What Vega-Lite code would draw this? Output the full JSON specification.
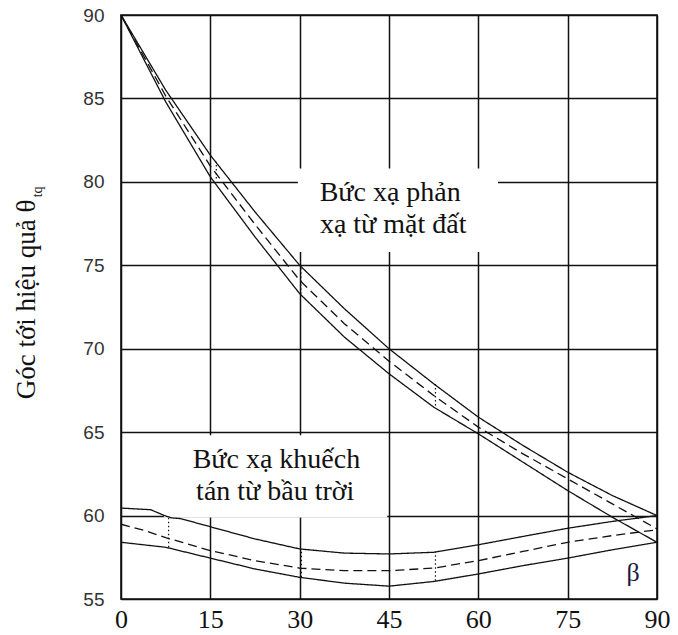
{
  "$schema": "https://vega.github.io/schema/vega-lite/v6.json",
  "width": 536,
  "height": 584,
  "autosize": {"type": "none"},
  "padding": {"left": 121, "top": 15, "right": 21, "bottom": 36},
  "background": "white",
  "config": {
    "view": {"stroke": "#111", "strokeWidth": 1.6}
  },
  "datasets": {
    "curves": [
      {"curve": "ground_hi", "dash": "solid", "x": 0, "y": 90},
      {"curve": "ground_hi", "dash": "solid", "x": 7.5, "y": 85.5},
      {"curve": "ground_hi", "dash": "solid", "x": 15, "y": 81.6},
      {"curve": "ground_hi", "dash": "solid", "x": 22.5, "y": 78.2},
      {"curve": "ground_hi", "dash": "solid", "x": 30, "y": 75.0},
      {"curve": "ground_hi", "dash": "solid", "x": 37.5, "y": 72.4},
      {"curve": "ground_hi", "dash": "solid", "x": 45, "y": 70.0},
      {"curve": "ground_hi", "dash": "solid", "x": 52.5, "y": 67.9},
      {"curve": "ground_hi", "dash": "solid", "x": 60, "y": 65.9},
      {"curve": "ground_hi", "dash": "solid", "x": 67.5, "y": 64.2},
      {"curve": "ground_hi", "dash": "solid", "x": 75, "y": 62.6},
      {"curve": "ground_hi", "dash": "solid", "x": 82.5, "y": 61.2},
      {"curve": "ground_hi", "dash": "solid", "x": 90, "y": 60.0},
      {"curve": "ground_mid", "dash": "dashed", "x": 0, "y": 90},
      {"curve": "ground_mid", "dash": "dashed", "x": 7.5, "y": 85.15},
      {"curve": "ground_mid", "dash": "dashed", "x": 15, "y": 80.95},
      {"curve": "ground_mid", "dash": "dashed", "x": 22.5, "y": 77.45},
      {"curve": "ground_mid", "dash": "dashed", "x": 30, "y": 74.1},
      {"curve": "ground_mid", "dash": "dashed", "x": 37.5, "y": 71.5},
      {"curve": "ground_mid", "dash": "dashed", "x": 45, "y": 69.25},
      {"curve": "ground_mid", "dash": "dashed", "x": 52.5, "y": 67.2},
      {"curve": "ground_mid", "dash": "dashed", "x": 60, "y": 65.3},
      {"curve": "ground_mid", "dash": "dashed", "x": 67.5, "y": 63.7},
      {"curve": "ground_mid", "dash": "dashed", "x": 75, "y": 62.2},
      {"curve": "ground_mid", "dash": "dashed", "x": 82.5, "y": 60.7},
      {"curve": "ground_mid", "dash": "dashed", "x": 90, "y": 59.2},
      {"curve": "ground_lo", "dash": "solid", "x": 0, "y": 90},
      {"curve": "ground_lo", "dash": "solid", "x": 7.5, "y": 84.8},
      {"curve": "ground_lo", "dash": "solid", "x": 15, "y": 80.3},
      {"curve": "ground_lo", "dash": "solid", "x": 22.5, "y": 76.7},
      {"curve": "ground_lo", "dash": "solid", "x": 30, "y": 73.3},
      {"curve": "ground_lo", "dash": "solid", "x": 37.5, "y": 70.7},
      {"curve": "ground_lo", "dash": "solid", "x": 45, "y": 68.5},
      {"curve": "ground_lo", "dash": "solid", "x": 52.5, "y": 66.5},
      {"curve": "ground_lo", "dash": "solid", "x": 60, "y": 64.9},
      {"curve": "ground_lo", "dash": "solid", "x": 67.5, "y": 63.2},
      {"curve": "ground_lo", "dash": "solid", "x": 75, "y": 61.5},
      {"curve": "ground_lo", "dash": "solid", "x": 82.5, "y": 59.9},
      {"curve": "ground_lo", "dash": "solid", "x": 90, "y": 58.4},
      {"curve": "sky_hi", "dash": "solid", "x": 0, "y": 60.45},
      {"curve": "sky_hi", "dash": "solid", "x": 5, "y": 60.35},
      {"curve": "sky_hi", "dash": "solid", "x": 7.3, "y": 60.0},
      {"curve": "sky_hi", "dash": "solid", "x": 8.5, "y": 59.86},
      {"curve": "sky_hi", "dash": "solid", "x": 10, "y": 59.82},
      {"curve": "sky_hi", "dash": "solid", "x": 15, "y": 59.33},
      {"curve": "sky_hi", "dash": "solid", "x": 22.5, "y": 58.6},
      {"curve": "sky_hi", "dash": "solid", "x": 30, "y": 58.0},
      {"curve": "sky_hi", "dash": "solid", "x": 37.5, "y": 57.75},
      {"curve": "sky_hi", "dash": "solid", "x": 45, "y": 57.7},
      {"curve": "sky_hi", "dash": "solid", "x": 52.5, "y": 57.8},
      {"curve": "sky_hi", "dash": "solid", "x": 60, "y": 58.25},
      {"curve": "sky_hi", "dash": "solid", "x": 67.5, "y": 58.75},
      {"curve": "sky_hi", "dash": "solid", "x": 75, "y": 59.24},
      {"curve": "sky_hi", "dash": "solid", "x": 82.5, "y": 59.65},
      {"curve": "sky_hi", "dash": "solid", "x": 90, "y": 60.0},
      {"curve": "sky_mid", "dash": "dashed", "x": 0, "y": 59.48},
      {"curve": "sky_mid", "dash": "dashed", "x": 4, "y": 59.1},
      {"curve": "sky_mid", "dash": "dashed", "x": 7.5, "y": 58.68},
      {"curve": "sky_mid", "dash": "dashed", "x": 15, "y": 57.9},
      {"curve": "sky_mid", "dash": "dashed", "x": 22.5, "y": 57.3},
      {"curve": "sky_mid", "dash": "dashed", "x": 30, "y": 56.85},
      {"curve": "sky_mid", "dash": "dashed", "x": 37.5, "y": 56.7},
      {"curve": "sky_mid", "dash": "dashed", "x": 45, "y": 56.7},
      {"curve": "sky_mid", "dash": "dashed", "x": 52.5, "y": 56.85},
      {"curve": "sky_mid", "dash": "dashed", "x": 60, "y": 57.3},
      {"curve": "sky_mid", "dash": "dashed", "x": 67.5, "y": 57.85},
      {"curve": "sky_mid", "dash": "dashed", "x": 75, "y": 58.4},
      {"curve": "sky_mid", "dash": "dashed", "x": 82.5, "y": 58.8},
      {"curve": "sky_mid", "dash": "dashed", "x": 90, "y": 59.15},
      {"curve": "sky_lo", "dash": "solid", "x": 0, "y": 58.4},
      {"curve": "sky_lo", "dash": "solid", "x": 7.5, "y": 58.1},
      {"curve": "sky_lo", "dash": "solid", "x": 15, "y": 57.45},
      {"curve": "sky_lo", "dash": "solid", "x": 22.5, "y": 56.8},
      {"curve": "sky_lo", "dash": "solid", "x": 30, "y": 56.3},
      {"curve": "sky_lo", "dash": "solid", "x": 37.5, "y": 55.95},
      {"curve": "sky_lo", "dash": "solid", "x": 45, "y": 55.77},
      {"curve": "sky_lo", "dash": "solid", "x": 52.5, "y": 56.05},
      {"curve": "sky_lo", "dash": "solid", "x": 60, "y": 56.5},
      {"curve": "sky_lo", "dash": "solid", "x": 67.5, "y": 57.0},
      {"curve": "sky_lo", "dash": "solid", "x": 75, "y": 57.45},
      {"curve": "sky_lo", "dash": "solid", "x": 82.5, "y": 57.95},
      {"curve": "sky_lo", "dash": "solid", "x": 90, "y": 58.4}
    ],
    "boxes": [
      {"x": 29.7, "x2": 63.3, "y": 80.8, "y2": 75.8},
      {"x": 7.2, "x2": 44.7, "y": 64.82, "y2": 59.88}
    ],
    "dots": [
      {"x": 8.0, "y": 58.1, "y2": 59.9},
      {"x": 30.3, "y": 56.3, "y2": 58.0},
      {"x": 52.8, "y": 56.1, "y2": 57.8},
      {"x": 16.0, "y": 80.2, "y2": 81.2},
      {"x": 30.2, "y": 73.3, "y2": 75.0},
      {"x": 52.8, "y": 66.6, "y2": 67.9}
    ],
    "labels": [
      {"x": 45.2, "y": 78.83, "t": "Bức xạ phản"},
      {"x": 45.7, "y": 76.94, "t": "xạ từ mặt đất"},
      {"x": 26.1, "y": 62.83, "t": "Bức xạ khuếch"},
      {"x": 25.9, "y": 60.95, "t": "tán từ bầu trời"}
    ],
    "beta": [{"x": 86.0, "y": 56.1, "t": "β"}],
    "ytitle": [{"x": -14.4, "y": 72.95, "t": "Góc tới hiệu quả θ"}],
    "ysub": [{"x": -13.2, "y": 79.4, "t": "tq"}]
  },
  "layer": [
    {
      "data": {"name": "boxes"},
      "mark": {"type": "rect", "fill": "white", "strokeWidth": 0},
      "encoding": {
        "x": {
          "field": "x", "type": "quantitative",
          "scale": {"domain": [0, 90], "nice": false, "zero": false},
          "axis": {
            "values": [0, 15, 30, 45, 60, 75, 90],
            "title": null, "grid": true, "domain": false, "ticks": false,
            "gridColor": "#111", "gridWidth": 1.5, "gridOpacity": 1,
            "labelFont": "Liberation Serif, Times New Roman, serif", "labelFontSize": 26,
            "labelColor": "#111", "labelPadding": 7,
            "labelFlush": false, "labelOverlap": false
          }
        },
        "x2": {"field": "x2"},
        "y": {
          "field": "y", "type": "quantitative",
          "scale": {"domain": [55, 90], "nice": false, "zero": false},
          "axis": {
            "values": [55, 60, 65, 70, 75, 80, 85, 90],
            "title": null, "grid": true, "domain": false, "ticks": false,
            "gridColor": "#111", "gridWidth": 1.5, "gridOpacity": 1,
            "labelFont": "Liberation Sans, Arial, sans-serif", "labelFontSize": 19,
            "labelColor": "#333", "labelPadding": 17,
            "labelFlush": false, "labelOverlap": false
          }
        },
        "y2": {"field": "y2"}
      }
    },
    {
      "data": {"name": "curves"},
      "mark": {"type": "line", "color": "#111", "strokeWidth": 1.3},
      "encoding": {
        "x": {"field": "x", "type": "quantitative"},
        "y": {"field": "y", "type": "quantitative"},
        "detail": {"field": "curve"},
        "strokeDash": {
          "field": "dash", "type": "nominal",
          "scale": {"domain": ["solid", "dashed"], "range": [[1, 0], [9, 5]]},
          "legend": null
        }
      }
    },
    {
      "data": {"name": "dots"},
      "mark": {"type": "rule", "color": "#111", "strokeWidth": 1.2, "strokeDash": [1.5, 2.5]},
      "encoding": {
        "x": {"field": "x", "type": "quantitative"},
        "y": {"field": "y", "type": "quantitative"},
        "y2": {"field": "y2"}
      }
    },
    {
      "data": {"name": "labels"},
      "mark": {"type": "text", "font": "Liberation Serif, Times New Roman, serif", "fontSize": 28, "align": "center", "baseline": "alphabetic", "color": "#111"},
      "encoding": {
        "x": {"field": "x", "type": "quantitative"},
        "y": {"field": "y", "type": "quantitative"},
        "text": {"field": "t"}
      }
    },
    {
      "data": {"name": "beta"},
      "mark": {"type": "text", "font": "Liberation Serif, Times New Roman, serif", "fontSize": 26, "align": "center", "baseline": "alphabetic", "color": "#1a1a3a"},
      "encoding": {
        "x": {"field": "x", "type": "quantitative"},
        "y": {"field": "y", "type": "quantitative"},
        "text": {"field": "t"}
      }
    },
    {
      "data": {"name": "ytitle"},
      "mark": {"type": "text", "font": "Liberation Serif, Times New Roman, serif", "fontSize": 27, "angle": 270, "align": "center", "baseline": "alphabetic", "color": "#111"},
      "encoding": {
        "x": {"field": "x", "type": "quantitative"},
        "y": {"field": "y", "type": "quantitative"},
        "text": {"field": "t"}
      }
    },
    {
      "data": {"name": "ysub"},
      "mark": {"type": "text", "font": "Liberation Serif, Times New Roman, serif", "fontSize": 14, "angle": 270, "align": "center", "baseline": "alphabetic", "color": "#111"},
      "encoding": {
        "x": {"field": "x", "type": "quantitative"},
        "y": {"field": "y", "type": "quantitative"},
        "text": {"field": "t"}
      }
    }
  ]
}
